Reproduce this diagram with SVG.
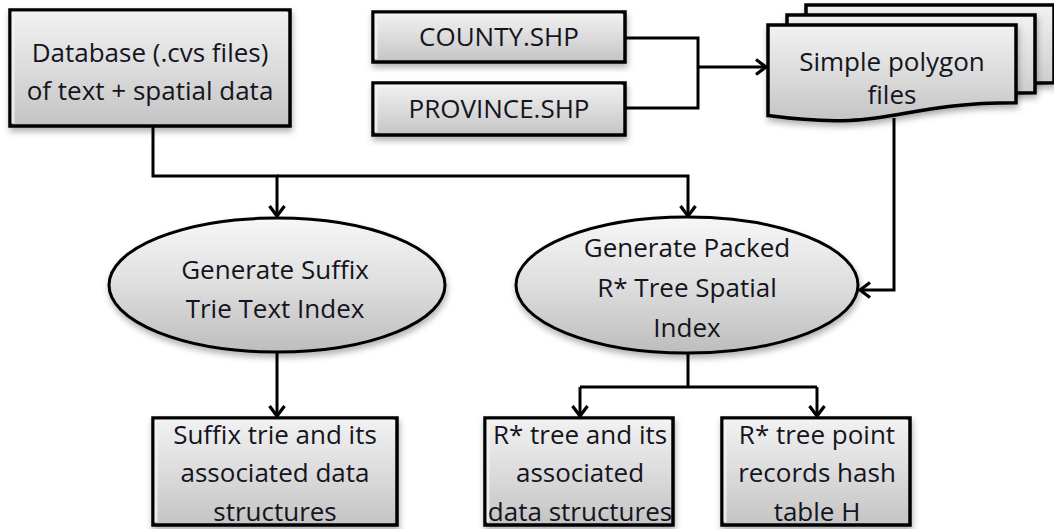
<svg xmlns="http://www.w3.org/2000/svg" width="1054" height="529" viewBox="0 0 1054 529">
<style>
.box{fill:url(#gBox);stroke:#000;stroke-width:3.5;filter:url(#sh)}
.ell{fill:url(#gEll);stroke:#000;stroke-width:3;filter:url(#sh)}
.doc{fill:url(#gBox);stroke:#000;stroke-width:3.5;filter:url(#sh)}
.hl{fill:none;stroke:#f4f4f4;stroke-width:3;opacity:.8}
text{font-family:"Open Sans","Liberation Sans",sans-serif;font-size:26px;fill:#14141e;text-anchor:middle}
.con{fill:none;stroke:#000;stroke-width:3}
</style>
<defs>
<linearGradient id="gBox" x1="0" y1="0" x2="0" y2="1">
<stop offset="0" stop-color="#f2f2f2"/>
<stop offset="0.5" stop-color="#dcdcdc"/>
<stop offset="1" stop-color="#c4c4c4"/>
</linearGradient>
<linearGradient id="gEll" x1="0" y1="0" x2="0" y2="1">
<stop offset="0" stop-color="#f7f7f7"/>
<stop offset="0.5" stop-color="#dedede"/>
<stop offset="1" stop-color="#bdbdbd"/>
</linearGradient>
<filter id="sh" x="-10%" y="-10%" width="120%" height="130%">
<feDropShadow dx="1" dy="4" stdDeviation="3" flood-color="#000" flood-opacity="0.3"/>
</filter>
<marker id="arr" markerUnits="userSpaceOnUse" markerWidth="22" markerHeight="22" refX="13" refY="9" orient="auto">
<path d="M3,1.5 L13,9 L3,16.5" fill="none" stroke="#000" stroke-width="3.2" stroke-linejoin="miter"/>
</marker>
</defs>

<g id="connectors">
<path class="con" d="M153,126 V176 H277 V216" marker-end="url(#arr)"/>
<path class="con" d="M277,176 H688 V216" marker-end="url(#arr)"/>
<path class="con" d="M625,38 H698 V108 H625"/>
<path class="con" d="M698,67 H766" marker-end="url(#arr)"/>
<path class="con" d="M894,118 V290 H860" marker-end="url(#arr)"/>
<path class="con" d="M277,352 V416" marker-end="url(#arr)"/>
<path class="con" d="M688,353 V387"/>
<path class="con" d="M580,387 H817"/>
<path class="con" d="M580,387 V416" marker-end="url(#arr)"/>
<path class="con" d="M817,387 V416" marker-end="url(#arr)"/>
</g>

<g id="database">
<rect class="box" x="10" y="10" width="280" height="116"/>
<path class="hl" d="M13,123 V13 H287"/>
<text x="150" y="62">Database (.cvs files)</text>
<text x="150" y="100">of text + spatial data</text>
</g>

<g id="county">
<rect class="box" x="373" y="12" width="252" height="50"/>
<path class="hl" d="M376,59 V15 H622"/>
<text x="499" y="46">COUNTY.SHP</text>
</g>

<g id="province">
<rect class="box" x="373" y="83" width="252" height="52"/>
<path class="hl" d="M376,132 V86 H622"/>
<text x="499" y="118">PROVINCE.SHP</text>
</g>

<g id="polygon-files">
<path class="doc" d="M806,5 H1054 V82.8 C930,82.8 930,112.4 806,95.6 Z"/>
<path class="doc" d="M787,15 H1035 V92.8 C911,92.8 911,122.4 787,105.6 Z"/>
<path class="doc" d="M768,25 H1016 V102.8 C892,102.8 892,132.4 768,115.6 Z"/>
<text x="892" y="71">Simple polygon</text>
<text x="892" y="104">files</text>
</g>

<g id="suffix-index">
<ellipse class="ell" cx="277" cy="285" rx="168" ry="67"/>
<text x="275" y="279">Generate Suffix</text>
<text x="275" y="318">Trie Text Index</text>
</g>

<g id="rtree-index">
<ellipse class="ell" cx="687" cy="285" rx="171" ry="68"/>
<text x="687" y="257">Generate Packed</text>
<text x="687" y="297">R* Tree Spatial</text>
<text x="687" y="337">Index</text>
</g>

<g id="suffix-trie">
<rect class="box" x="153" y="418" width="244" height="107"/>
<path class="hl" d="M156,522 V421 H394"/>
<text x="275" y="444">Suffix trie and its</text>
<text x="275" y="482">associated data</text>
<text x="275" y="521">structures</text>
</g>

<g id="rtree">
<rect class="box" x="485" y="418" width="188" height="107"/>
<path class="hl" d="M488,522 V421 H670"/>
<text x="580" y="444">R* tree and its</text>
<text x="580" y="482">associated</text>
<text x="580" y="521">data structures</text>
</g>

<g id="hash-table">
<rect class="box" x="722" y="418" width="188" height="107"/>
<path class="hl" d="M725,522 V421 H907"/>
<text x="817" y="444">R* tree point</text>
<text x="817" y="482">records hash</text>
<text x="817" y="521">table  H</text>
</g>
</svg>
